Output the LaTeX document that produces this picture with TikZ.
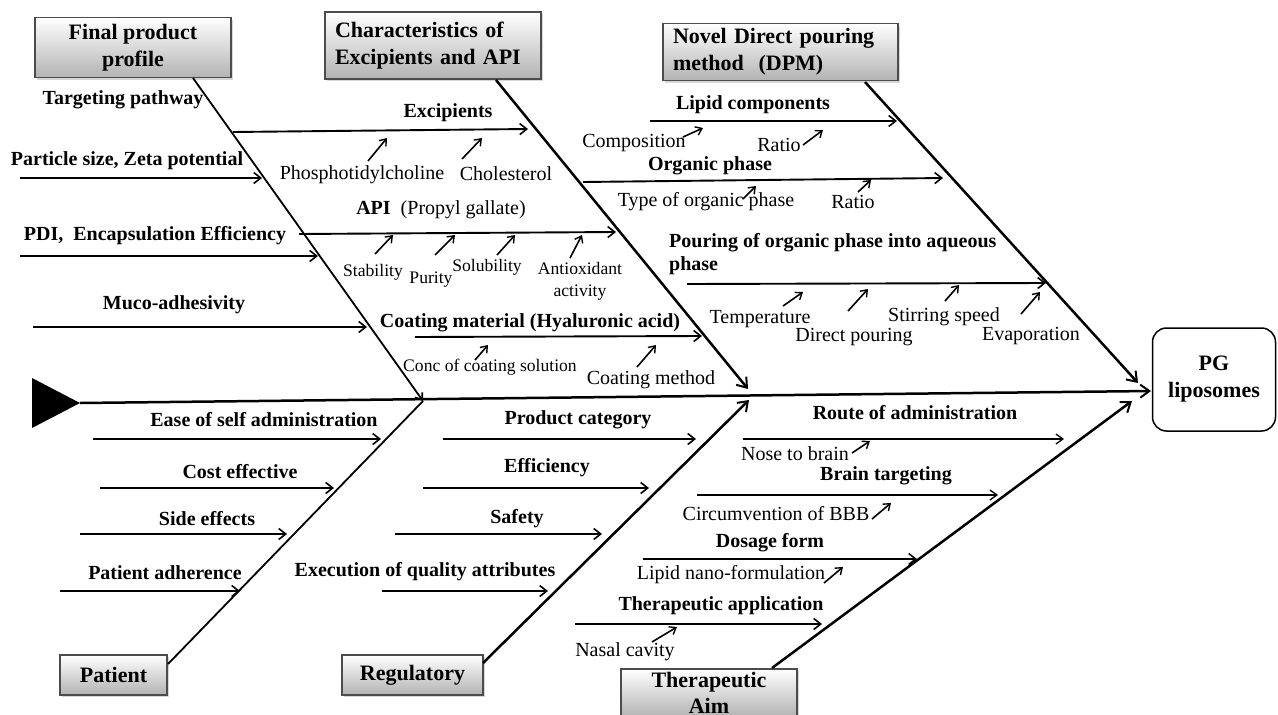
\documentclass[tikz,border=0pt]{standalone}
\usepackage{fontspec}
\setmainfont{Liberation Serif}
\usetikzlibrary{arrows.meta,shadows}
\tikzset{
  hdr/.style={draw=black!70, line width=1.1pt, top color=white, bottom color=black!30,
    drop shadow={shadow xshift=2pt,shadow yshift=-2pt,fill=black!40,opacity=0.4},
    font=\fontsize{22}{27}\selectfont\bfseries, inner ysep=0pt, align=center},
  bone/.style={line width=2.5pt, -{Straight Barb[length=9pt,width=13pt,line width=2pt]}},
  thinbone/.style={line width=1.8pt},
  rib/.style={line width=1.9pt, -{Straight Barb[length=7pt,width=11pt,line width=1.6pt]}},
  thinrib/.style={line width=1.4pt, -{Straight Barb[length=7pt,width=10pt,line width=1.3pt]}},
  subarr/.style={line width=1.6pt, -{Straight Barb[length=6pt,width=9pt,line width=1.4pt]}},
  bl/.style={font=\fontsize{20}{22}\selectfont\bfseries, inner sep=0pt},
  nl/.style={font=\fontsize{20}{22}\selectfont, inner sep=0pt},
  sl/.style={font=\fontsize{17.6}{22}\selectfont, inner sep=0pt},
}
\begin{document}
\begin{tikzpicture}[x=1pt,y=-1pt]
\useasboundingbox (0,0) rectangle (1278,715);
\clip (0,0) rectangle (1278,715);

% ---------- header boxes ----------
\node[hdr, minimum width=196pt, minimum height=60pt] (fpp) at (133,47.5) {Final product\\profile};
\node[hdr, text width=196pt, inner xsep=10pt, align=left, minimum height=67pt] (cea) at (433,45.5) {Characteristics of\\Excipients and API};
\node[hdr, text width=215pt, inner xsep=10pt, align=left, minimum height=57pt] (dpm) at (780.5,52) {Novel Direct pouring\\method~~(DPM)};
\node[hdr, minimum width=107pt, minimum height=40pt] (pat) at (113.5,675) {Patient};
\node[hdr, minimum width=141pt, minimum height=40pt] (reg) at (412.5,675) {Regulatory};
\node[hdr, minimum width=176pt, minimum height=48pt, font=\fontsize{22}{26}\selectfont\bfseries] (tha) at (709,693) {Therapeutic\\Aim};
\node[draw, line width=1.5pt, rounded corners=14pt, minimum width=123pt, minimum height=103pt,
  font=\fontsize{22}{27}\selectfont\bfseries, align=center, fill=white] (pg) at (1214,379.5) {PG\\liposomes};

% ---------- head triangle and spine ----------
\coordinate (tri1) at (32,378);
\coordinate (tri2) at (32,428);
\coordinate (tip) at (80,403);
\fill (tri1) -- (tip) -- (tri2) -- cycle;
\coordinate (spineend) at (1151,391);
\draw[bone] (tip) -- (spineend);

% ---------- bones ----------
\coordinate (j1) at (423,401);
\coordinate (j2t) at (748,389);
\coordinate (j2b) at (749,400);
\coordinate (j3t) at (1138,383);
\coordinate (j3b) at (1132,401);
\coordinate (b1s) at (193,78);
\coordinate (b2s) at (496,80);
\coordinate (b3s) at (865,82);
\coordinate (b4s) at (168,664);
\coordinate (b5s) at (483,663);
\coordinate (b6s) at (772,668);
\draw[thinbone, -{Straight Barb[length=6pt,width=9pt]}] (b1s) -- (j1);
\draw[thinbone] (b4s) -- (j1);
\draw[bone] (b2s) -- (j2t);
\draw[bone] (b5s) -- (j2b);
\draw[bone] (b3s) -- (j3t);
\draw[bone] (b6s) -- (j3b);

% ---------- ribs: final product profile ----------
\node[bl] (tp) at (123,100) {Targeting pathway};
\node[bl] (psz) at (127,161) {Particle size, Zeta potential};
\node[bl] (pdi) at (155,236) {PDI,~~Encapsulation Efficiency};
\node[bl] (muco) at (174,305) {Muco-adhesivity};
\coordinate (r1a) at (20,178); \coordinate (r1b) at (262,178);
\coordinate (r2a) at (20,256); \coordinate (r2b) at (318,256);
\coordinate (r3a) at (33,327); \coordinate (r3b) at (367,327);
\draw[rib] (r1a) -- (r1b);
\draw[rib] (r2a) -- (r2b);
\draw[rib] (r3a) -- (r3b);

% ---------- ribs: characteristics ----------
\node[bl] (exc) at (448,113) {Excipients};
\coordinate (r4a) at (233,132); \coordinate (r4b) at (528,129);
\draw[rib] (r4a) -- (r4b);
\node[nl] (phos) at (362,175) {Phosphotidylcholine};
\node[nl] (chol) at (506,174) {Cholesterol};
\draw[subarr] (368,161) -- (387,138);
\draw[subarr] (462,159) -- (482,138);

\node[nl] (api) at (441,210) {\textbf{API}~~(Propyl gallate)};
\coordinate (r5a) at (299,234); \coordinate (r5b) at (616,232);
\draw[rib] (r5a) -- (r5b);
\node[sl] (stab) at (373,272) {Stability};
\node[sl] (pur) at (431,280) {Purity};
\node[sl] (sol) at (487,267) {Solubility};
\node[sl, align=center] (antiox) at (580,281) {Antioxidant\\activity};
\draw[subarr] (375,254) -- (393,235);
\draw[subarr] (435,255) -- (455,235);
\draw[subarr] (497,255) -- (515,235);
\draw[subarr] (570,258) -- (582,235);

\node[bl] (coat) at (530,323) {Coating material (Hyaluronic acid)};
\coordinate (r6a) at (415,337); \coordinate (r6b) at (702,336);
\draw[rib] (r6a) -- (r6b);
\node[sl] (conc) at (490,367) {Conc of coating solution};
\node[nl] (cmeth) at (651,380) {Coating method};
\draw[subarr] (475,360) -- (488,345);
\draw[subarr] (637,367) -- (656,345);

% ---------- ribs: DPM ----------
\node[bl] (lipid) at (753,105) {Lipid components};
\coordinate (r7a) at (650,121); \coordinate (r7b) at (897,121);
\draw[rib] (r7a) -- (r7b);
\node[nl] (comp) at (634,143) {Composition};
\node[nl] (ratio1) at (779,145) {Ratio};
\draw[subarr] (683,137) -- (703,128);
\draw[subarr] (803,145) -- (823,130);

\node[bl] (org) at (710,166) {Organic phase};
\coordinate (r8a) at (583,182); \coordinate (r8b) at (943,178);
\draw[rib] (r8a) -- (r8b);
\node[nl] (type) at (706,202) {Type of organic phase};
\node[nl] (ratio2) at (853,202) {Ratio};
\draw[subarr] (743,199) -- (756,186);
\draw[subarr] (858,192) -- (871,180);

\node[bl, align=left, anchor=west, font=\fontsize{20}{23}\selectfont\bfseries] (pour) at (669,254.5) {Pouring of organic phase into aqueous\\phase};
\coordinate (r9a) at (687,284); \coordinate (r9b) at (1046,283);
\draw[rib] (r9a) -- (r9b);
\node[nl] (temp) at (760,319) {Temperature};
\node[nl] (dpour) at (854,337) {Direct pouring};
\node[nl] (stir) at (944,317) {Stirring speed};
\node[nl] (evap) at (1031,336) {Evaporation};
\draw[subarr] (783,306) -- (803,292);
\draw[subarr] (848,311) -- (868,289);
\draw[subarr] (945,301) -- (959,285);
\draw[subarr] (1021,314) -- (1040,292);

% ---------- ribs: patient ----------
\node[bl] (ease) at (264,420) {Ease of self administration};
\node[bl] (cost) at (240,472) {Cost effective};
\node[bl] (side) at (207,519) {Side effects};
\node[bl] (padh) at (165,573) {Patient adherence};
\coordinate (p1a) at (93,439); \coordinate (p1b) at (381,439);
\coordinate (p2a) at (100,488); \coordinate (p2b) at (334,488);
\coordinate (p3a) at (80,534); \coordinate (p3b) at (287,534);
\coordinate (p4a) at (60,591); \coordinate (p4b) at (240,591);
\draw[rib] (p1a) -- (p1b);
\draw[rib] (p2a) -- (p2b);
\draw[rib] (p3a) -- (p3b);
\draw[rib] (p4a) -- (p4b);

% ---------- ribs: regulatory ----------
\node[bl] (pcat) at (578,420) {Product category};
\node[bl] (effi) at (547,468) {Efficiency};
\node[bl] (safe) at (517,519) {Safety};
\node[bl] (exec) at (425,572) {Execution of quality attributes};
\coordinate (q1a) at (443,439); \coordinate (q1b) at (696,439);
\coordinate (q2a) at (423,488); \coordinate (q2b) at (649,488);
\coordinate (q3a) at (395,534); \coordinate (q3b) at (602,534);
\coordinate (q4a) at (382,591); \coordinate (q4b) at (548,591);
\draw[rib] (q1a) -- (q1b);
\draw[rib] (q2a) -- (q2b);
\draw[rib] (q3a) -- (q3b);
\draw[rib] (q4a) -- (q4b);

% ---------- ribs: therapeutic aim ----------
\node[bl] (route) at (915,413) {Route of administration};
\coordinate (t1a) at (743,439); \coordinate (t1b) at (1064,439);
\draw[thinrib] (t1a) -- (t1b);
\node[nl] (nose) at (795,454) {Nose to brain};
\draw[subarr] (852,453) -- (870,441);

\node[bl] (brain) at (886,476) {Brain targeting};
\coordinate (t2a) at (697,495); \coordinate (t2b) at (998,495);
\draw[thinrib] (t2a) -- (t2b);
\node[nl] (bbb) at (776,514) {Circumvention of BBB};
\draw[subarr] (872,519) -- (891,503);

\node[bl] (dos) at (770,543) {Dosage form};
\coordinate (t3a) at (643,559); \coordinate (t3b) at (917,559);
\draw[rib] (t3a) -- (t3b);
\node[nl] (lnf) at (731,575) {Lipid nano-formulation};
\draw[subarr] (824,583) -- (843,567);

\node[bl] (tapp) at (721,606) {Therapeutic application};
\coordinate (t4a) at (575,624); \coordinate (t4b) at (822,624);
\draw[rib] (t4a) -- (t4b);
\node[nl] (nasal) at (625,652) {Nasal cavity};
\draw[subarr] (652,642) -- (677,627);
\end{tikzpicture}
\end{document}
